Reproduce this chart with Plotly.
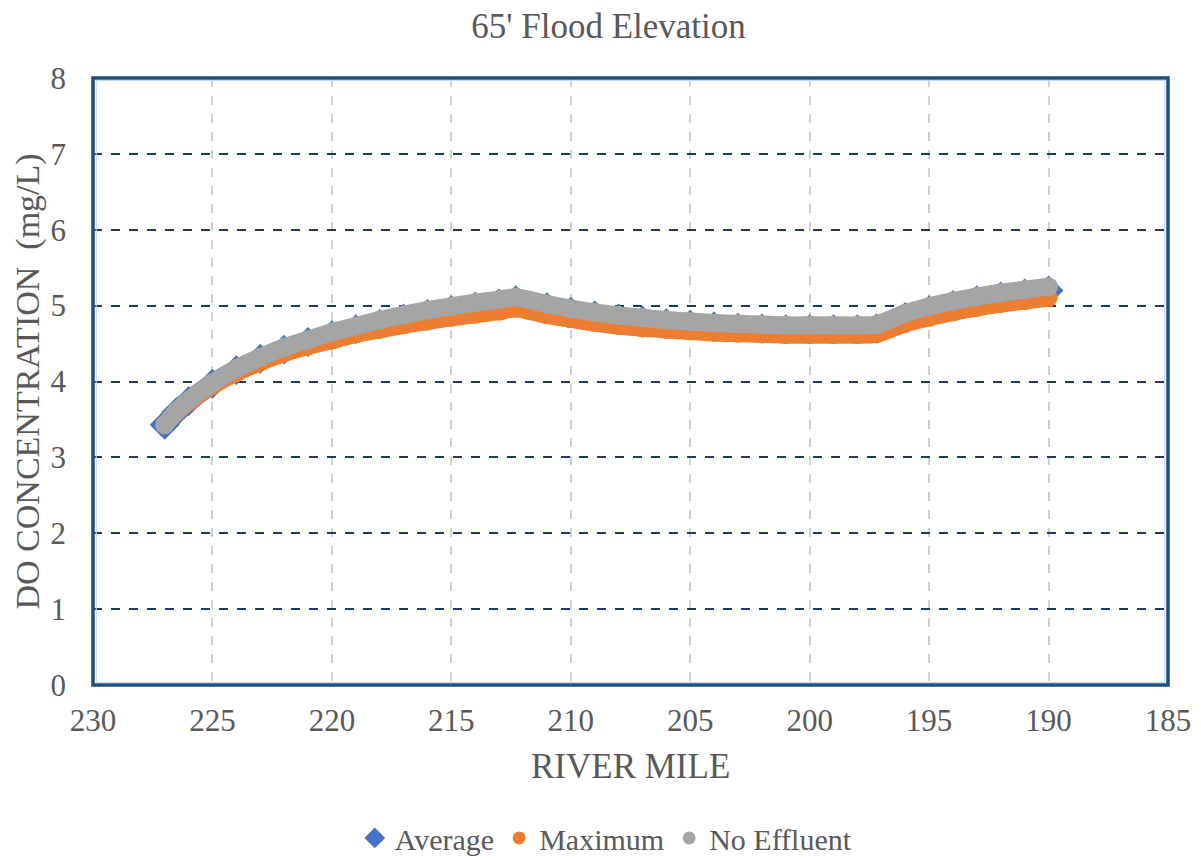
import plotly.graph_objects as go

miles = [227, 226.5, 226, 225, 224, 223, 222, 221, 220, 219, 218, 217, 216, 215, 214, 213, 212.3,
         211, 210, 209, 208, 207, 206, 205, 204, 203, 202, 201, 200, 199, 198, 197.2,
         196, 195, 194, 193, 192, 191, 190]
average = [3.43, 3.60, 3.74, 3.97, 4.15, 4.30, 4.42, 4.52, 4.61, 4.69, 4.76, 4.83, 4.89, 4.94, 4.99, 5.03, 5.07,
           4.98, 4.92, 4.87, 4.83, 4.80, 4.77, 4.75, 4.73, 4.71, 4.70, 4.69, 4.69, 4.69, 4.69, 4.70,
           4.85, 4.94, 5.01, 5.07, 5.12, 5.16, 5.20]
maximum = [3.43, 3.59, 3.72, 3.94, 4.11, 4.25, 4.37, 4.46, 4.54, 4.62, 4.68, 4.74, 4.79, 4.84, 4.88, 4.92, 4.96,
           4.87, 4.82, 4.77, 4.73, 4.70, 4.68, 4.66, 4.64, 4.63, 4.62, 4.61, 4.61, 4.61, 4.61, 4.62,
           4.76, 4.84, 4.91, 4.97, 5.02, 5.06, 5.10]
no_effluent = [3.43, 3.61, 3.75, 3.98, 4.17, 4.32, 4.45, 4.55, 4.65, 4.73, 4.81, 4.88, 4.94, 4.99, 5.04, 5.08, 5.11,
               5.02, 4.96, 4.91, 4.87, 4.84, 4.81, 4.79, 4.77, 4.76, 4.75, 4.74, 4.74, 4.74, 4.74, 4.75,
               4.90, 4.99, 5.06, 5.12, 5.17, 5.21, 5.25]

x_ticks = [230, 225, 220, 215, 210, 205, 200, 195, 190, 185]

FONT = "Liberation Serif, Times New Roman, serif"
GRAY = "#595959"

fig = go.Figure()

series = [
    ("Average", average, "#4472C4", "diamond", 23, 20),
    ("Maximum", maximum, "#ED7D31", "circle", 18, 17),
    ("No Effluent", no_effluent, "#A5A5A5", "circle", 19, 18),
]
for name, vals, color, sym, msize, lw in series:
    fig.add_trace(go.Scatter(
        x=miles, y=vals, name=name, mode="lines+markers", showlegend=False,
        line=dict(color=color, width=lw, shape="spline", smoothing=0.6),
        marker=dict(color=color, symbol=sym, size=msize),
    ))
for name, vals, color, sym, msize, lw in series:
    fig.add_trace(go.Scatter(
        x=[None], y=[None], name=name, mode="markers", showlegend=True,
        marker=dict(color=color, symbol=sym, size=16 if sym == "diamond" else 13),
    ))

fig.update_layout(
    width=1201, height=859,
    paper_bgcolor="white", plot_bgcolor="white",
    margin=dict(l=85, r=41, t=70, b=182, autoexpand=False),
    title=dict(text="65' Flood Elevation", x=0.5, xanchor="center", y=0.979, yanchor="middle",
               font=dict(family=FONT, size=35, color=GRAY)),
    font=dict(family=FONT, color=GRAY),
    legend=dict(orientation="h", x=0.477, xanchor="center", y=-0.252, yanchor="middle",
                font=dict(family=FONT, size=30, color=GRAY), itemsizing="trace",
                itemwidth=30, tracegroupgap=0),
    showlegend=True,
)

fig.update_xaxes(
    range=[230, 185], tickvals=x_ticks, ticktext=[str(t) for t in x_ticks],
    tickfont=dict(family=FONT, size=31, color=GRAY), ticklabelstandoff=14,
    showgrid=True, gridcolor="#D0D0D0", griddash="dash", gridwidth=1.5,
    zeroline=False, showline=False, ticks="", automargin=False,
)
fig.update_yaxes(
    range=[0, 8], dtick=1,
    tickfont=dict(family=FONT, size=31, color=GRAY), ticklabelstandoff=26,
    showgrid=True, gridcolor="#1F3864", griddash="dash", gridwidth=1.5,
    zeroline=False, showline=False, ticks="", automargin=False,
)

fig.add_annotation(text="RIVER MILE", xref="paper", yref="paper", x=0.5, y=0,
                   xanchor="center", yanchor="middle", yshift=-81, showarrow=False,
                   font=dict(family=FONT, size=35, color=GRAY))
fig.add_annotation(text="DO CONCENTRATION  (mg/L)", xref="paper", yref="paper", x=0, y=0.5,
                   xanchor="center", yanchor="middle", xshift=-66, textangle=-90, showarrow=False,
                   font=dict(family=FONT, size=34, color=GRAY))

fig.add_shape(type="rect", xref="paper", yref="paper", x0=0, y0=0, x1=1, y1=1,
              line=dict(color="#1F4E79", width=3.5), layer="above")
fig.add_shape(type="rect", xref="paper", yref="paper", x0=0.003, y0=0.004, x1=0.997, y1=0.996,
              line=dict(color="#BDD7EE", width=1), layer="above")

fig.write_html("out.html")
